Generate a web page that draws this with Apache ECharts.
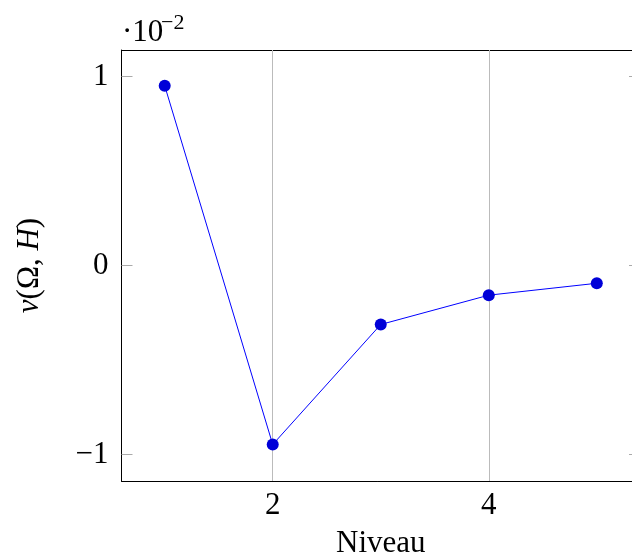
<!DOCTYPE html>
<html><head><meta charset="utf-8">
<script src="https://cdn.jsdelivr.net/npm/echarts@6/dist/echarts.min.js"></script>
<style>html,body{margin:0;padding:0;background:#fff;overflow:hidden}#c{width:632px;height:556px}</style>
</head><body><div id="c"></div>
<script>
// Data (y values in units of 10^-2)
const niveaux = [1, 2, 3, 4, 5];
const values = [0.951, -0.947, -0.312, -0.157, -0.094];
const xTicks = [2, 4];
const yTicks = [-1, 0, 1];
const xLabel = 'Niveau';
const scaleLabel = ['·10', '−2'];

const FONT = 'Liberation Serif';
const FS = 31;
const chart = echarts.init(document.getElementById('c'), null, {renderer: 'canvas'});
const pts = niveaux.map((x, i) => [x, values[i]]);

chart.setOption({
  animation: false,
  grid: {left: 121.5, top: 50, right: -8, bottom: 75, containLabel: false, outerBoundsMode: 'none'},
  xAxis: [{
    type: 'value', min: 0.6, max: 5.4, position: 'bottom',
    name: xLabel, nameLocation: 'middle', nameGap: 47,
    nameTextStyle: {fontFamily: FONT, fontSize: FS, color: '#000'},
    axisLine: {show: true, onZero: false, lineStyle: {color: '#000', width: 1}},
    axisTick: {show: true, inside: true, length: 11, customValues: xTicks, lineStyle: {color: '#666'}},
    axisLabel: {customValues: xTicks, fontFamily: FONT, fontSize: FS, color: '#000', margin: 9},
    splitLine: {show: false}
  }, {
    type: 'value', min: 0.6, max: 5.4, position: 'top',
    axisLine: {show: true, onZero: false, lineStyle: {color: '#000', width: 1}},
    axisTick: {show: true, inside: true, length: 11, customValues: xTicks, lineStyle: {color: '#666'}},
    axisLabel: {show: false},
    splitLine: {show: false}
  }],
  yAxis: [{
    type: 'value', min: -1.14, max: 1.14, position: 'left',
    name: '{i|v}(Ω, {i|H})', nameLocation: 'middle', nameRotate: 90, nameGap: 76,
    nameTextStyle: {fontFamily: FONT, fontSize: FS, color: '#000',
      rich: {i: {fontFamily: FONT, fontSize: FS, fontStyle: 'italic', color: '#000'}}},
    axisLine: {show: true, onZero: false, lineStyle: {color: '#000', width: 1}},
    axisTick: {show: true, inside: true, length: 11, customValues: yTicks, lineStyle: {color: '#aaa'}},
    axisLabel: {customValues: yTicks, fontFamily: FONT, fontSize: FS, color: '#000', margin: 13,
      formatter: v => (v < 0 ? '−' + Math.abs(v) : String(v))},
    splitLine: {show: false}
  }, {
    type: 'value', min: -1.14, max: 1.14, position: 'right',
    axisLine: {show: true, onZero: false, lineStyle: {color: '#000', width: 1}},
    axisTick: {show: true, inside: true, length: 11, customValues: yTicks, lineStyle: {color: '#aaa'}},
    axisLabel: {show: false},
    splitLine: {show: false}
  }],
  graphic: [
    {type: 'text', left: 122, top: 17, style: {text: scaleLabel[0], font: FS + 'px ' + FONT, fill: '#000'}},
    {type: 'text', left: 161, top: 12, style: {text: scaleLabel[1], font: '22px ' + FONT, fill: '#000'}}
  ],
  series: [{
    type: 'line', data: pts, xAxisIndex: 0, yAxisIndex: 0,
    symbol: 'circle', symbolSize: 12,
    itemStyle: {color: '#0000d8'},
    lineStyle: {color: '#0000ff', width: 1},
    markLine: {
      silent: true, symbol: 'none', label: {show: false},
      lineStyle: {color: '#bbb', type: 'solid', width: 1},
      data: xTicks.map(x => ({xAxis: x}))
    },
    z: 5
  }]
});
</script></body></html>
